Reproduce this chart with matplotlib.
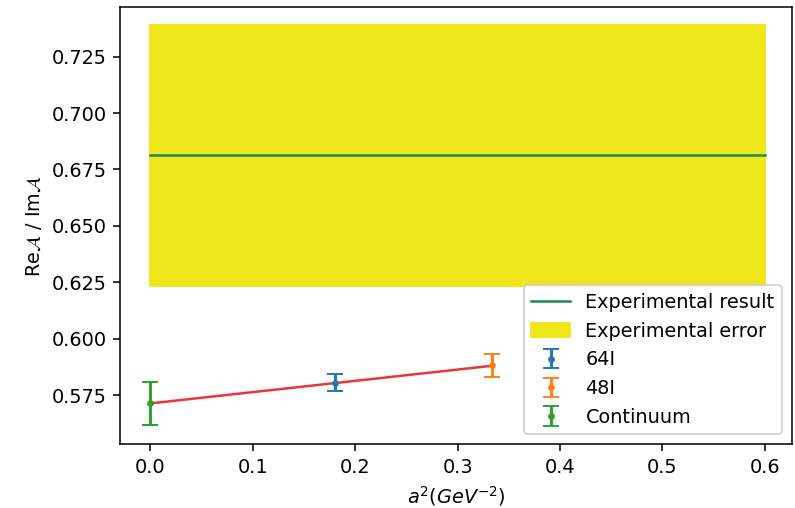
import numpy as np
import matplotlib
matplotlib.use("Agg")
import matplotlib.pyplot as plt

# experimental value and its error band
exp_value = 0.6812
exp_error = 0.0578
exp_x = [0.0, 0.6]

# lattice results: a^2 (GeV^-2), ratio, error
lat_labels = ["64I", "48I"]
lat_a2 = [0.180, 0.334]
lat_ratio = [0.5805, 0.5882]
lat_err = [0.0037, 0.0051]

# continuum extrapolation
cont_a2 = 0.0
cont_ratio = 0.5713
cont_err = 0.0097

DPI = 139
fig = plt.figure(figsize=(795 / DPI, 508 / DPI), dpi=DPI)
ax = fig.add_axes([120 / 795, 64 / 508, 672 / 795, 436.7 / 508])

# linear extrapolation line through the two lattice points
slope = (lat_ratio[1] - lat_ratio[0]) / (lat_a2[1] - lat_a2[0])
fit_x = np.linspace(cont_a2, lat_a2[1], 50)
fit_y = cont_ratio + slope * (fit_x - cont_a2)
ax.plot(fit_x, fit_y, color="#e8373c", lw=1.3)

ax.plot(exp_x, [exp_value, exp_value], color="#1f8a55", lw=1.3,
        label="Experimental result")
ax.fill_between(exp_x, exp_value - exp_error, exp_value + exp_error,
                color="#f0e61c", label="Experimental error", zorder=0)

colors = ["tab:blue", "tab:orange"]
for lab, x, y, e, c in zip(lat_labels, lat_a2, lat_ratio, lat_err, colors):
    ax.errorbar(x, y, yerr=e, fmt=".", color=c, capsize=4, ms=5, label=lab)
ax.errorbar(cont_a2, cont_ratio, yerr=cont_err, fmt=".", color="tab:green",
            capsize=4, ms=5, label="Continuum")

ax.set_xlim(-0.0297, 0.6266)
ax.set_ylim(0.5533, 0.7469)
ax.set_xlabel(r"$a^2(GeV^{-2})$")
ax.set_ylabel(r"Re$\mathcal{A}$ / Im$\mathcal{A}$")
ax.legend(loc="lower right")

fig.savefig("out.png", dpi=DPI)
